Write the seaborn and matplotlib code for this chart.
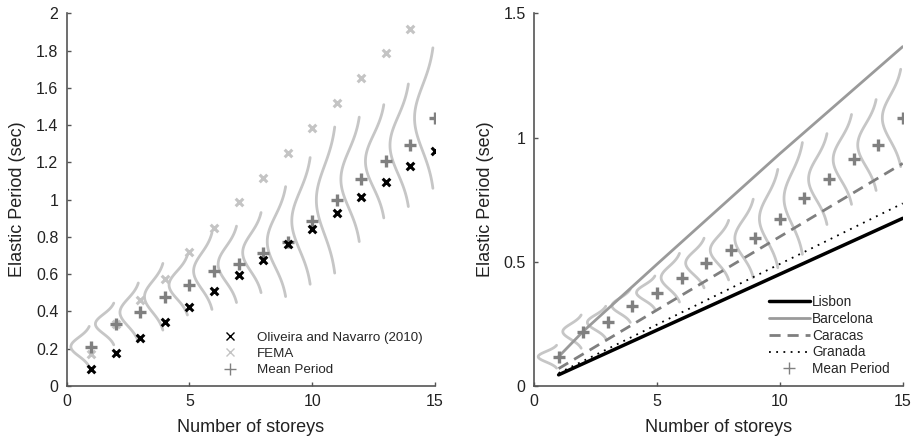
import numpy as np
import pandas as pd
import matplotlib
matplotlib.use("Agg")
import matplotlib.pyplot as plt
from matplotlib.lines import Line2D
import seaborn as sns

# ---- data ----
storeys = np.arange(1, 16)

# left panel: period estimates (sec)
oliveira = [0.093, 0.179, 0.259, 0.343, 0.426, 0.512, 0.594, 0.676, 0.760,
            0.844, 0.930, 1.012, 1.095, 1.179, 1.263]
fema_storeys = np.arange(1, 15)
fema = [0.170, 0.333, 0.462, 0.572, 0.717, 0.850, 0.986, 1.116, 1.250,
        1.385, 1.517, 1.651, 1.785, 1.918]
mean_left = [0.211, 0.333, 0.395, 0.479, 0.542, 0.617, 0.653, 0.716, 0.775,
             0.886, 0.998, 1.109, 1.206, 1.292, 1.438]
# half-range of each period distribution
spread_left = [0.109, 0.112, 0.158, 0.179, 0.161, 0.206, 0.205, 0.215, 0.295,
               0.340, 0.392, 0.334, 0.304, 0.329, 0.377]

# right panel: mean period and code formulas per city
mean_right = [0.118, 0.219, 0.256, 0.323, 0.376, 0.436, 0.495, 0.547, 0.594,
              0.674, 0.755, 0.833, 0.912, 0.970, 1.079]
spread_right = [0.046, 0.067, 0.065, 0.067, 0.067, 0.098, 0.100, 0.120, 0.158,
                0.198, 0.225, 0.183, 0.181, 0.183, 0.196]

city_names = ["Lisbon", "Barcelona", "Caracas", "Granada"]
lisbon_n, lisbon_T = [1, 15], [0.045, 0.675]
barcelona_n, barcelona_T = [1, 2, 5, 10, 15], [0.118, 0.220, 0.490, 0.935, 1.366]
caracas_n, caracas_T = [1, 15], [0.070, 0.896]
granada_n, granada_T = [1, 15], [0.052, 0.735]

# ---- style ----
sns.set_style("ticks")
plt.rcParams["font.family"] = ["Liberation Sans", "DejaVu Sans"]
plt.rcParams["axes.edgecolor"] = "#555555"
plt.rcParams["xtick.color"] = "#555555"
plt.rcParams["ytick.color"] = "#555555"
plt.rcParams["xtick.labelcolor"] = "#222222"
plt.rcParams["ytick.labelcolor"] = "#222222"

CURVE = "#c6c6c6"
MEANC = "#808080"
FEMAC = "#c4c4c4"
WIDTH = 0.83      # drawn peak width of the distributions (storey units)
K = 2.15          # distribution drawn over +/- K sigma

fig = plt.figure(figsize=(9.16, 4.40), dpi=100)
axL = fig.add_axes([0.0728, 0.1227, 0.402, 0.847])
axR = fig.add_axes([0.583, 0.1227, 0.4025, 0.847])


def curves_frame(means, spreads):
    rows = []
    for n, mu, h in zip(storeys, means, spreads):
        sig = h / K
        y = np.linspace(mu - h, mu + h, 80)
        x = n - WIDTH * np.exp(-0.5 * ((y - mu) / sig) ** 2)
        rows.append(pd.DataFrame({"x": x, "y": y, "n": n}))
    return pd.concat(rows, ignore_index=True)


def draw_curves(ax, means, spreads):
    df = curves_frame(means, spreads)
    sns.lineplot(data=df, x="x", y="y", units="n", estimator=None, sort=False,
                 color=CURVE, linewidth=2.0, ax=ax, legend=False)


def style_axes(ax, ylim, yticks, ylabels):
    ax.set_xlim(0, 15)
    ax.set_ylim(*ylim)
    ax.set_xticks([0, 5, 10, 15])
    ax.set_yticks(yticks)
    ax.set_yticklabels(ylabels)
    ax.tick_params(direction="in", length=3, width=1, labelsize=11.5, pad=6)
    for s in ("top", "right"):
        ax.spines[s].set_visible(False)
    for s in ("left", "bottom"):
        ax.spines[s].set_linewidth(1.2)
    ax.set_xlabel("Number of storeys", fontsize=13, color="#222222", labelpad=7)
    ax.set_ylabel("Elastic Period (sec)", fontsize=13, color="#222222", labelpad=7)


# ---- left panel ----
draw_curves(axL, mean_left, spread_left)
sns.scatterplot(x=fema_storeys, y=fema, marker="x", s=30, linewidth=2.2,
                color=FEMAC, ax=axL, zorder=3)
sns.scatterplot(x=storeys, y=mean_left, marker="+", s=70, linewidth=2.4,
                color=MEANC, ax=axL, zorder=4)
sns.scatterplot(x=storeys, y=oliveira, marker="x", s=30, linewidth=2.2,
                color="black", ax=axL, zorder=5)
style_axes(axL, (0, 2), np.arange(0, 2.01, 0.2),
           ["0", "0.2", "0.4", "0.6", "0.8", "1", "1.2", "1.4", "1.6", "1.8", "2"])

hL = [Line2D([], [], ls="none", marker="x", color="black", markersize=6, mew=1),
      Line2D([], [], ls="none", marker="x", color=FEMAC, markersize=6, mew=1),
      Line2D([], [], ls="none", marker="+", color=MEANC, markersize=8, mew=1)]
axL.legend(hL, ["Oliveira and Navarro (2010)", "FEMA", "Mean Period"],
           loc="lower left", bbox_to_anchor=(0.4, 0.012), frameon=False,
           fontsize=9.6, labelspacing=0.3, handletextpad=1.2, handlelength=1.6,
           borderaxespad=0)

# ---- right panel ----
draw_curves(axR, mean_right, spread_right)
sns.lineplot(x=barcelona_n, y=barcelona_T, color="#9a9a9a", linewidth=2.0, ax=axR)
sns.lineplot(x=caracas_n, y=caracas_T, color="#7f7f7f", linewidth=2.0,
             ax=axR).lines[-1].set_dashes([4, 2.5])
sns.lineplot(x=granada_n, y=granada_T, color="black", linewidth=1.3,
             ax=axR).lines[-1].set_dashes([1, 3])
sns.lineplot(x=lisbon_n, y=lisbon_T, color="black", linewidth=2.5, ax=axR)
sns.scatterplot(x=storeys, y=mean_right, marker="+", s=70, linewidth=2.4,
                color=MEANC, ax=axR, zorder=4)
style_axes(axR, (0, 1.5), [0, 0.5, 1, 1.5], ["0", "0.5", "1", "1.5"])

hR = [Line2D([], [], color="black", lw=2.5),
      Line2D([], [], color="#9a9a9a", lw=2.0),
      Line2D([], [], color="#7f7f7f", lw=2.0, dashes=[4, 2.5]),
      Line2D([], [], color="black", lw=1.3, dashes=[1, 3]),
      Line2D([], [], ls="none", marker="+", color=MEANC, markersize=8, mew=1)]
axR.legend(hR, city_names + ["Mean Period"], loc="lower left",
           bbox_to_anchor=(0.622, 0.012), frameon=False, fontsize=9.8,
           labelspacing=0.2, handletextpad=0.2, handlelength=3.0,
           borderaxespad=0)

fig.savefig("out.png", dpi=100)
